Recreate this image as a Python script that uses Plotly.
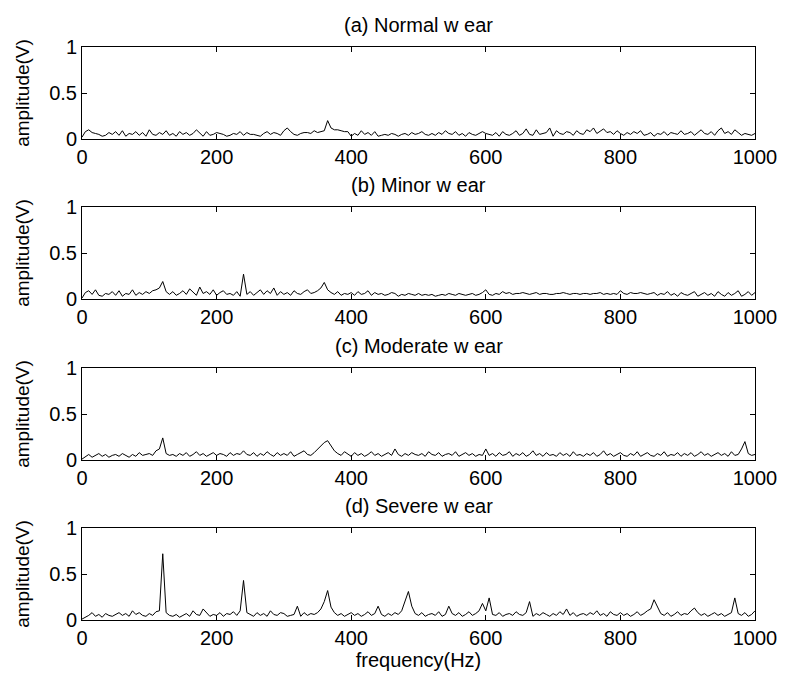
import plotly.graph_objects as go

freq = [5 * i for i in range(201)]

normal_wear = [
    0.02,0.08,0.10,0.07,0.06,0.05,0.03,0.04,0.07,0.05,
    0.08,0.04,0.09,0.03,0.06,0.05,0.08,0.04,0.07,0.03,
    0.10,0.05,0.04,0.07,0.05,0.09,0.04,0.06,0.03,0.08,
    0.05,0.07,0.04,0.06,0.10,0.06,0.03,0.08,0.04,0.05,
    0.07,0.06,0.05,0.03,0.04,0.06,0.05,0.08,0.04,0.07,
    0.05,0.05,0.04,0.03,0.06,0.08,0.05,0.07,0.06,0.04,
    0.09,0.12,0.08,0.05,0.04,0.06,0.07,0.07,0.06,0.09,
    0.07,0.08,0.09,0.20,0.12,0.10,0.10,0.09,0.08,0.08,
    0.03,0.06,0.04,0.09,0.05,0.07,0.04,0.08,0.03,0.04,
    0.05,0.04,0.06,0.05,0.03,0.05,0.06,0.04,0.07,0.05,
    0.06,0.08,0.05,0.04,0.06,0.04,0.07,0.05,0.09,0.06,
    0.05,0.08,0.04,0.06,0.03,0.07,0.05,0.04,0.06,0.08,
    0.06,0.05,0.04,0.07,0.03,0.08,0.05,0.04,0.06,0.09,
    0.04,0.06,0.11,0.05,0.04,0.10,0.05,0.06,0.07,0.12,
    0.03,0.09,0.06,0.05,0.08,0.07,0.04,0.09,0.06,0.05,
    0.10,0.08,0.12,0.06,0.09,0.11,0.07,0.08,0.05,0.09,
    0.06,0.04,0.07,0.05,0.08,0.06,0.09,0.04,0.05,0.07,
    0.03,0.06,0.05,0.08,0.04,0.07,0.06,0.05,0.09,0.05,
    0.06,0.08,0.04,0.07,0.10,0.06,0.05,0.08,0.04,0.09,
    0.12,0.06,0.08,0.05,0.10,0.07,0.04,0.06,0.05,0.04,
    0.06,
]

minor_wear = [
    0.01,0.07,0.09,0.05,0.10,0.04,0.03,0.06,0.05,0.08,
    0.04,0.09,0.03,0.06,0.05,0.10,0.04,0.07,0.05,0.08,
    0.06,0.09,0.10,0.12,0.19,0.08,0.05,0.08,0.04,0.06,
    0.09,0.05,0.11,0.07,0.04,0.13,0.06,0.08,0.05,0.10,
    0.04,0.07,0.09,0.05,0.06,0.04,0.08,0.03,0.27,0.05,
    0.08,0.04,0.07,0.10,0.05,0.09,0.06,0.12,0.04,0.08,
    0.05,0.07,0.04,0.09,0.06,0.05,0.08,0.10,0.06,0.07,
    0.09,0.12,0.18,0.10,0.07,0.05,0.08,0.04,0.06,0.05,
    0.07,0.04,0.08,0.05,0.06,0.09,0.04,0.07,0.05,0.06,
    0.04,0.05,0.07,0.06,0.03,0.05,0.04,0.06,0.05,0.04,
    0.06,0.04,0.05,0.04,0.05,0.03,0.04,0.05,0.04,0.06,
    0.05,0.04,0.06,0.05,0.04,0.05,0.06,0.04,0.05,0.07,
    0.10,0.05,0.04,0.06,0.05,0.08,0.06,0.07,0.05,0.06,
    0.06,0.07,0.06,0.05,0.06,0.07,0.05,0.06,0.06,0.05,
    0.05,0.06,0.06,0.07,0.06,0.05,0.06,0.06,0.05,0.06,
    0.06,0.05,0.06,0.06,0.07,0.05,0.06,0.05,0.06,0.05,
    0.09,0.06,0.05,0.07,0.06,0.06,0.07,0.06,0.05,0.06,
    0.07,0.04,0.06,0.05,0.08,0.04,0.06,0.03,0.07,0.05,
    0.04,0.06,0.08,0.03,0.05,0.07,0.04,0.06,0.03,0.08,
    0.05,0.03,0.07,0.04,0.06,0.09,0.03,0.05,0.08,0.04,
    0.07,
]

moderate_wear = [
    0.01,0.04,0.06,0.03,0.05,0.07,0.04,0.06,0.03,0.05,
    0.06,0.04,0.07,0.05,0.03,0.06,0.04,0.08,0.05,0.06,
    0.07,0.05,0.10,0.12,0.24,0.07,0.05,0.06,0.04,0.07,
    0.05,0.08,0.04,0.06,0.09,0.05,0.07,0.04,0.06,0.08,
    0.05,0.07,0.06,0.04,0.08,0.05,0.07,0.06,0.10,0.06,
    0.05,0.08,0.04,0.07,0.05,0.09,0.06,0.04,0.08,0.05,
    0.07,0.05,0.09,0.04,0.06,0.08,0.10,0.06,0.05,0.08,
    0.12,0.15,0.19,0.21,0.16,0.10,0.07,0.05,0.09,0.06,
    0.04,0.08,0.05,0.07,0.04,0.06,0.09,0.05,0.07,0.04,
    0.06,0.08,0.05,0.12,0.06,0.04,0.07,0.05,0.08,0.06,
    0.05,0.07,0.04,0.09,0.06,0.05,0.08,0.04,0.06,0.07,
    0.05,0.09,0.04,0.06,0.08,0.05,0.07,0.04,0.06,0.05,
    0.12,0.05,0.07,0.04,0.08,0.05,0.06,0.09,0.04,0.07,
    0.05,0.08,0.04,0.06,0.10,0.05,0.07,0.04,0.08,0.05,
    0.06,0.04,0.08,0.05,0.07,0.04,0.09,0.05,0.06,0.04,
    0.07,0.05,0.08,0.04,0.06,0.10,0.05,0.07,0.04,0.06,
    0.08,0.05,0.04,0.07,0.05,0.09,0.04,0.06,0.08,0.05,
    0.04,0.07,0.05,0.09,0.04,0.06,0.05,0.08,0.04,0.07,
    0.05,0.08,0.04,0.06,0.09,0.05,0.07,0.04,0.06,0.08,
    0.05,0.07,0.04,0.09,0.05,0.06,0.12,0.20,0.07,0.05,
    0.06,
]

severe_wear = [
    0.01,0.03,0.05,0.08,0.04,0.06,0.03,0.07,0.05,0.04,
    0.06,0.08,0.05,0.07,0.04,0.10,0.06,0.08,0.05,0.04,
    0.07,0.05,0.09,0.10,0.72,0.08,0.05,0.04,0.06,0.03,
    0.05,0.07,0.04,0.10,0.06,0.05,0.12,0.08,0.04,0.06,
    0.05,0.08,0.04,0.07,0.06,0.09,0.05,0.10,0.43,0.08,
    0.06,0.04,0.08,0.05,0.07,0.04,0.10,0.06,0.05,0.08,
    0.07,0.04,0.05,0.06,0.15,0.04,0.08,0.05,0.07,0.06,
    0.08,0.12,0.20,0.32,0.14,0.08,0.05,0.07,0.04,0.06,
    0.08,0.05,0.07,0.04,0.06,0.09,0.05,0.07,0.15,0.06,
    0.04,0.07,0.05,0.08,0.06,0.10,0.20,0.31,0.15,0.07,
    0.05,0.08,0.04,0.06,0.07,0.05,0.09,0.04,0.06,0.15,
    0.07,0.05,0.08,0.04,0.06,0.09,0.05,0.07,0.10,0.18,
    0.10,0.24,0.06,0.05,0.08,0.04,0.06,0.07,0.05,0.09,
    0.06,0.05,0.08,0.20,0.04,0.07,0.05,0.08,0.06,0.04,
    0.07,0.05,0.09,0.06,0.12,0.05,0.08,0.04,0.06,0.07,
    0.05,0.08,0.06,0.10,0.05,0.07,0.04,0.09,0.06,0.05,
    0.08,0.05,0.07,0.04,0.06,0.09,0.05,0.07,0.10,0.12,
    0.22,0.14,0.07,0.05,0.08,0.04,0.06,0.09,0.05,0.07,
    0.06,0.10,0.13,0.08,0.05,0.07,0.04,0.06,0.08,0.05,
    0.07,0.04,0.06,0.08,0.24,0.07,0.05,0.08,0.04,0.06,
    0.10,
]

titles = ["(a) Normal w ear", "(b) Minor w ear", "(c) Moderate w ear", "(d) Severe w ear"]
series = [normal_wear, minor_wear, moderate_wear, severe_wear]
x_ticks = [0, 200, 400, 600, 800, 1000]
y_ticks = [0, 0.5, 1]
y_tick_text = ["0", "0.5", "1"]

W, H = 789, 677
L, R, T, B = 82, 32, 47, 57
plot_h = H - T - B
panels_px = [(47, 139), (207, 299), (368, 460), (528, 620)]

FONT = "Liberation Sans, Arial, sans-serif"
FS = 20
fig = go.Figure()
for k, (ys, (top, bot)) in enumerate(zip(series, panels_px)):
    idx = "" if k == 0 else str(k + 1)
    d0 = (H - B - bot) / plot_h
    d1 = (H - B - top) / plot_h
    fig.add_trace(go.Scatter(x=freq, y=ys, mode="lines",
                             line=dict(color="black", width=1),
                             xaxis="x" + idx, yaxis="y" + idx, showlegend=False,
                             hoverinfo="skip"))
    axstyle = dict(showline=True, linecolor="black", linewidth=1, mirror="ticks",
                   ticks="inside", ticklen=5, tickcolor="black", showgrid=False,
                   zeroline=False, tickfont=dict(family=FONT, size=FS, color="black"))
    fig.layout["xaxis" + idx] = dict(domain=[0, 1], range=[0, 1000], tickvals=x_ticks,
                                     anchor="y" + idx, **axstyle)
    fig.layout["yaxis" + idx] = dict(domain=[max(d0, 0), min(d1, 1)], range=[0, 1],
                                     tickvals=y_ticks, ticktext=y_tick_text,
                                     anchor="x" + idx,
                                     title=dict(text="amplitude(V)", standoff=14,
                                                font=dict(family=FONT, size=FS - 1, color="black")),
                                     **axstyle)
    fig.add_annotation(text=titles[k], xref="paper", yref="paper", x=0.5, y=min(d1, 1),
                       yshift=9, yanchor="bottom", showarrow=False,
                       font=dict(family=FONT, size=FS, color="black"))

fig.layout["xaxis4"]["title"] = dict(text="frequency(Hz)", standoff=2,
                                     font=dict(family=FONT, size=FS, color="black"))

fig.update_layout(width=W, height=H, margin=dict(l=L, r=R, t=T, b=B),
                  plot_bgcolor="white", paper_bgcolor="white")
fig.write_html("out.html")
